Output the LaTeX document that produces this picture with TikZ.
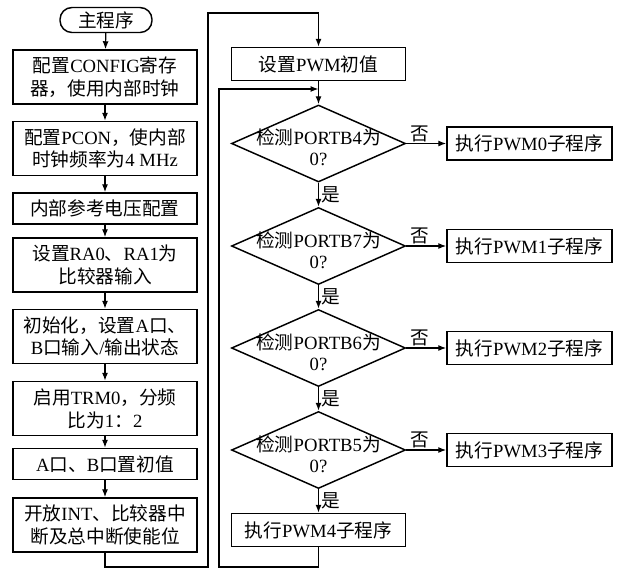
\documentclass[tikz,border=0pt]{standalone}
\usepackage{fontspec}
\setmainfont{Liberation Serif}
\newfontfamily\cjk{Noto Sans CJK SC}
\newcommand\zh[1]{{\cjk #1}}
\usetikzlibrary{arrows.meta, shapes.geometric}

\tikzset{
  txt/.style={font=\fontsize{14}{17}\selectfont},
  box/.style={txt, draw, line width=1.1pt, align=center, inner sep=1pt, minimum width=138pt, minimum height=23.25pt},
  tallbox/.style={box, minimum height=40.5pt},
  pwmbox/.style={box, minimum width=130.5pt, minimum height=24.75pt},
  subbox/.style={box, minimum width=123.75pt, minimum height=24.75pt},
  startbox/.style={box, rounded corners=9pt, minimum width=69pt, minimum height=18.75pt},
  test/.style={draw, line width=1.1pt, shape=diamond, inner sep=0pt, minimum width=130.5pt, minimum height=57.75pt},
  testtext/.style={font=\fontsize{14}{15.5}\selectfont, align=center, inner sep=0pt, yshift=-3pt},
  arr/.style={-{Latex[length=6pt,width=4.5pt]}, line width=0.9pt}
}

\begin{document}
\begin{tikzpicture}[x=0.75pt, y=-0.75pt]
  \useasboundingbox (0,0) rectangle (618,569);

  % Left column: setup steps
  \node[startbox] (start) at (106,20) {\zh{主程序}};
  \node[tallbox] (config) at (105,77) {\zh{配置}CONFIG\zh{寄存}\\\zh{器，使用内部时钟}};
  \node[tallbox] (pcon) at (105,148.5) {\zh{配置}PCON\zh{，使内部}\\\zh{时钟频率为}4 MHz};
  \node[box] (vref) at (105,208.5) {\zh{内部参考电压配置}};
  \node[tallbox] (cmpin) at (105,265) {\zh{设置}RA0\zh{、}RA1\zh{为}\\\zh{比较器输入}};
  \node[tallbox] (ports) at (105,336.5) {\zh{初始化，设置}A\zh{口、}\\B\zh{口输入}/\zh{输出状态}};
  \node[tallbox] (timer) at (105,408.5) {\zh{启用}TRM0\zh{，分频}\\\zh{比为}1\zh{：}2};
  \node[box] (portinit) at (105,464) {A\zh{口、}B\zh{口置初值}};
  \node[tallbox] (intr) at (105,525) {\zh{开放}INT\zh{、比较器中}\\\zh{断及总中断使能位}};

  \draw[arr] (start) -- (config);
  \draw[arr] (config) -- (pcon);
  \draw[arr] (pcon) -- (vref);
  \draw[arr] (vref) -- (cmpin);
  \draw[arr] (cmpin) -- (ports);
  \draw[arr] (ports) -- (timer);
  \draw[arr] (timer) -- (portinit);
  \draw[arr] (portinit) -- (intr);

  % Right column: PWM loop
  \node[pwmbox] (pwminit) at (318.5,64) {\zh{设置}PWM\zh{初值}};
  \node[test, label={[testtext]center:{\zh{检测}PORTB4\zh{为}\\0?}}] (t4) at (318.5,143.5) {};
  \node[test, label={[testtext]center:{\zh{检测}PORTB7\zh{为}\\0?}}] (t7) at (318.5,246) {};
  \node[test, label={[testtext]center:{\zh{检测}PORTB6\zh{为}\\0?}}] (t6) at (318.5,348) {};
  \node[test, label={[testtext]center:{\zh{检测}PORTB5\zh{为}\\0?}}] (t5) at (318.5,450) {};
  \node[pwmbox] (pwm4) at (318.5,530) {\zh{执行}PWM4\zh{子程序}};

  \node[subbox] (pwm0) at (529.5,143.5) {\zh{执行}PWM0\zh{子程序}};
  \node[subbox] (pwm1) at (529.5,246) {\zh{执行}PWM1\zh{子程序}};
  \node[subbox] (pwm2) at (529.5,348) {\zh{执行}PWM2\zh{子程序}};
  \node[subbox] (pwm3) at (529.5,450) {\zh{执行}PWM3\zh{子程序}};

  \draw[arr] (pwminit) -- (t4);
  \draw[arr] (t4) -- (t7) node[txt, midway, right, inner sep=2pt] {\zh{是}};
  \draw[arr] (t7) -- (t6) node[txt, midway, right, inner sep=2pt] {\zh{是}};
  \draw[arr] (t6) -- (t5) node[txt, midway, right, inner sep=2pt] {\zh{是}};
  \draw[arr] (t5) -- (pwm4) node[txt, midway, right, inner sep=2pt] {\zh{是}};

  \draw[arr] (t4.east) -- (pwm0) node[txt, pos=0.35, above, inner sep=1pt] {\zh{否}};
  \draw[arr] (t7.east) -- (pwm1) node[txt, pos=0.35, above, inner sep=1pt] {\zh{否}};
  \draw[arr] (t6.east) -- (pwm2) node[txt, pos=0.35, above, inner sep=1pt] {\zh{否}};
  \draw[arr] (t5.east) -- (pwm3) node[txt, pos=0.35, above, inner sep=1pt] {\zh{否}};

  % Loops back
  \coordinate (outerlow) at (208,567);
  \coordinate (outerhigh) at (208,13);
  \coordinate (innerlow) at (219,567);
  \coordinate (innerhigh) at (219,89);
  \coordinate (join) at (318.5,89);

  \draw[arr] (intr.south) |- (outerlow) -- (outerhigh) -| (pwminit.north);
  \draw[arr] (pwm4.south) |- (innerlow) -- (innerhigh) -- (join);
\end{tikzpicture}
\end{document}
